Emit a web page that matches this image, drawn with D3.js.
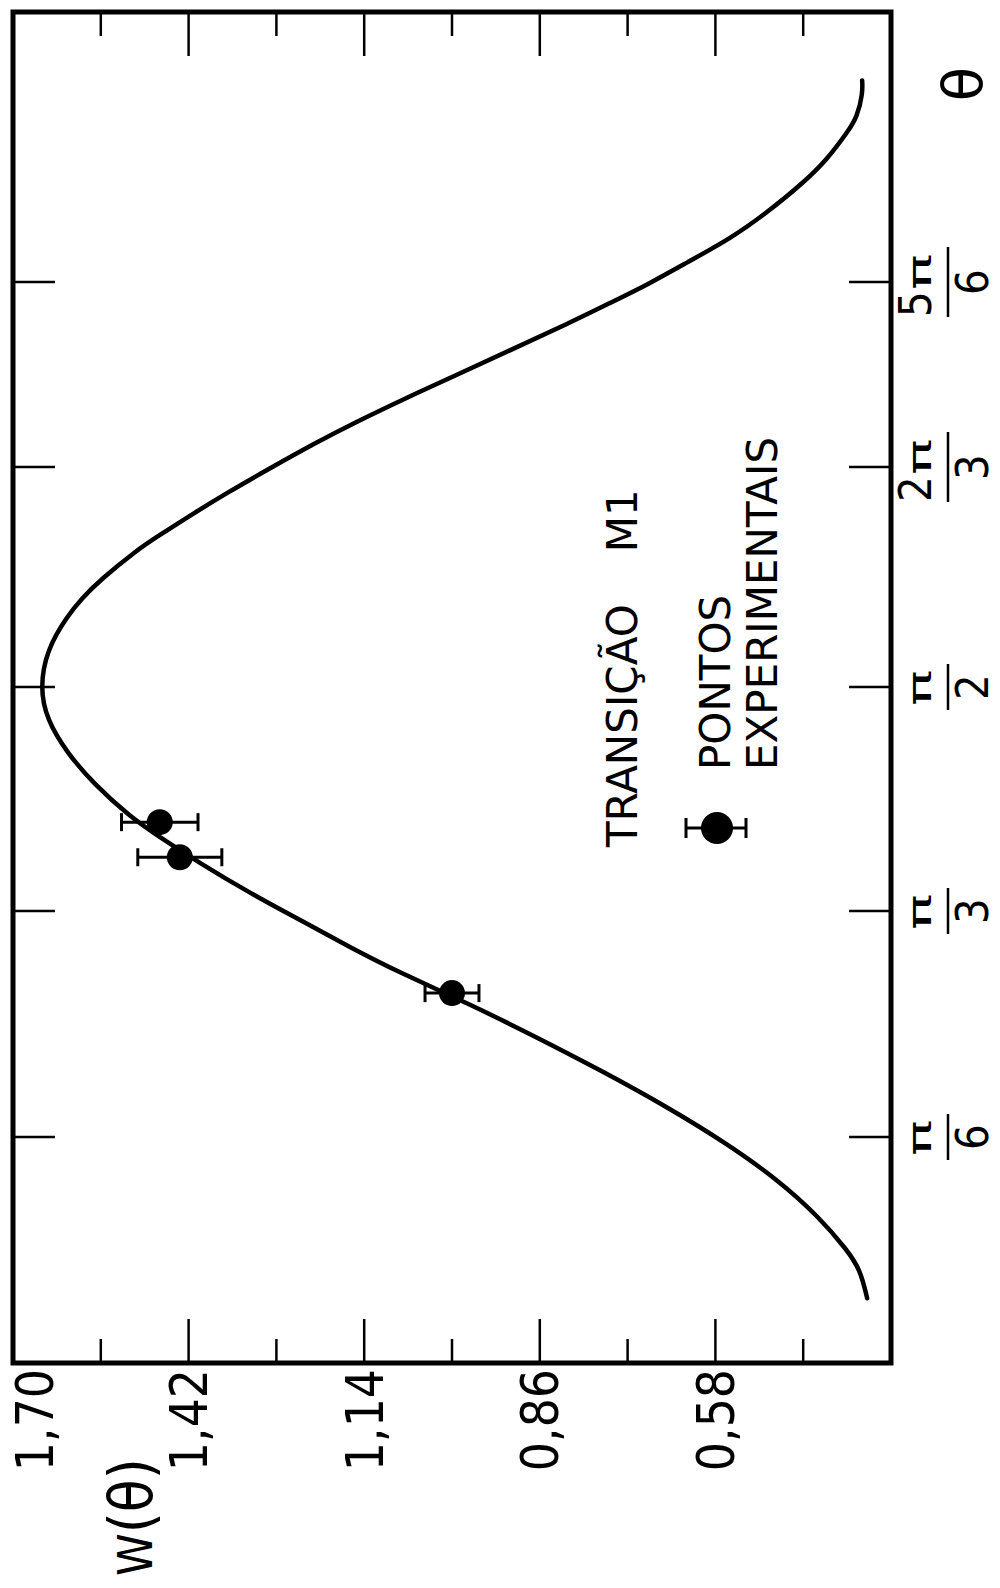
<!DOCTYPE html>
<html>
<head>
<meta charset="utf-8">
<script src="https://cdn.jsdelivr.net/npm/d3@7"></script>
<style>
  body { margin: 0; background: #fff; }
  text { fill: #000; }
</style>
</head>
<body>
<script>
// W(theta) axis (horizontal on the page, the figure is printed turned)
const wTicks = [1.70, 1.42, 1.14, 0.86, 0.58];
const wMinorTicks = [1.56, 1.28, 1.00, 0.72, 0.44];
const wTickLabels = ["1,70", "1,42", "1,14", "0,86", "0,58"];

// theta axis, degrees
const thetaTicks = [30, 60, 90, 120, 150];
const thetaNum = ["π", "π", "π", "2π", "5π"];
const thetaDen = ["6", "3", "2", "3", "6"];

// theoretical curve
const curveTheta = [8.6, 12.4, 15.0, 19.4, 24.3, 29.2, 34.0, 38.9, 43.5, 47.8, 51.8, 55.2, 58.8,
  62.4, 66.4, 69.9, 72.6, 77.1, 81.2, 85.6, 89.9, 95.1, 99.6, 102.1, 104.6, 108.7, 110.5,
  113.9, 116.6, 119.3, 123.9, 127.3, 131.2, 134.6, 139.0, 143.4, 146.6, 149.8, 152.1, 155.0,
  157.7, 161.0, 163.6, 166.6, 168.3, 171.0, 172.4];
const curveW = [0.338, 0.349, 0.370, 0.415, 0.480, 0.563, 0.657, 0.764, 0.871, 0.976, 1.083,
  1.163, 1.242, 1.322, 1.402, 1.466, 1.513, 1.572, 1.614, 1.646, 1.657, 1.646, 1.614, 1.590,
  1.561, 1.502, 1.470, 1.408, 1.356, 1.301, 1.218, 1.153, 1.073, 1.000, 0.906, 0.812, 0.748,
  0.684, 0.627, 0.552, 0.498, 0.440, 0.402, 0.370, 0.354, 0.345, 0.346];

// experimental points
const pointTheta = [49.1, 67.2, 71.9];
const pointW = [1.000, 1.434, 1.466];
const pointErr = [0.043, 0.067, 0.061];

const width = 1000;
const height = 1588;

const svg = d3.select("body").append("svg")
  .attr("width", width)
  .attr("height", height);

const x = d3.scaleLinear().domain([1.70, 0.30]).range([13, 891]);
const y = d3.scaleLinear()
  .domain([0, 30, 60, 90, 120, 150, 180])
  .range([1363, 1137, 911, 687, 467, 282, 12]);

const condensed = "'DejaVu Sans Condensed', 'DejaVu Sans', sans-serif";
const plain = "'DejaVu Sans', sans-serif";

// frame
svg.append("rect")
  .attr("x", x(1.70))
  .attr("y", y(180))
  .attr("width", x(0.30) - x(1.70))
  .attr("height", y(0) - y(180))
  .attr("fill", "none")
  .attr("stroke", "#000")
  .attr("stroke-width", 5);

// W ticks on top and bottom edges
const wAll = wTicks.slice(1).map(v => ({ v, len: 44 }))
  .concat(wMinorTicks.map(v => ({ v, len: 24 })));
svg.append("g").selectAll("line").data(wAll).join("line")
  .attr("x1", d => x(d.v)).attr("x2", d => x(d.v))
  .attr("y1", y(180)).attr("y2", d => y(180) + d.len)
  .attr("stroke", "#000").attr("stroke-width", 2.5);
svg.append("g").selectAll("line").data(wAll).join("line")
  .attr("x1", d => x(d.v)).attr("x2", d => x(d.v))
  .attr("y1", y(0)).attr("y2", d => y(0) - d.len)
  .attr("stroke", "#000").attr("stroke-width", 2.5);

// theta ticks on left and right edges
svg.append("g").selectAll("line").data(thetaTicks).join("line")
  .attr("x1", x(1.70)).attr("x2", x(1.70) + 42)
  .attr("y1", d => y(d)).attr("y2", d => y(d))
  .attr("stroke", "#000").attr("stroke-width", 2.5);
svg.append("g").selectAll("line").data(thetaTicks).join("line")
  .attr("x1", x(0.30)).attr("x2", x(0.30) - 42)
  .attr("y1", d => y(d)).attr("y2", d => y(d))
  .attr("stroke", "#000").attr("stroke-width", 2.5);

// W tick labels
svg.append("g").selectAll("text").data(wTicks).join("text")
  .attr("transform", d => `translate(${Math.max(x(d), x(1.70) + 22)},1369) rotate(-90)`)
  .attr("text-anchor", "end")
  .attr("dy", "0.36em")
  .attr("font-family", condensed)
  .attr("font-size", 51)
  .text((d, i) => wTickLabels[i]);

// W(theta) title
const wTitle = svg.append("text")
  .attr("transform", "translate(152,1576) rotate(-90)")
  .attr("font-family", condensed);
wTitle.append("tspan").attr("font-size", 48).text("W");
wTitle.append("tspan").attr("font-size", 60).text("(θ)");

// theta tick labels as fractions
thetaTicks.forEach((t, i) => {
  const num = thetaNum[i];
  const half = num.length > 1 ? 35 : 23;
  svg.append("line")
    .attr("x1", 948).attr("x2", 948)
    .attr("y1", y(t) - half).attr("y2", y(t) + half)
    .attr("stroke", "#000").attr("stroke-width", 2.5);

  const g = svg.append("g").attr("transform", `translate(931,${y(t)}) rotate(-90)`);
  let piStart = -19;
  if (num.length > 1) {
    g.append("text")
      .attr("x", -35)
      .attr("font-family", condensed)
      .attr("font-size", 45)
      .text(num[0]);
    piStart = -8;
  }
  g.append("text")
    .attr("transform", `translate(${piStart},0) scale(1.5,0.8)`)
    .attr("font-family", plain)
    .attr("font-size", 40)
    .text("π");

  svg.append("text")
    .attr("transform", `translate(988,${y(t)}) rotate(-90)`)
    .attr("text-anchor", "middle")
    .attr("font-family", condensed)
    .attr("font-size", 45)
    .text(thetaDen[i]);
});

// theta title
svg.append("text")
  .attr("transform", "translate(982,84) rotate(-90)")
  .attr("text-anchor", "middle")
  .attr("font-family", plain)
  .attr("font-size", 56)
  .text("θ");

// curve
const curveData = curveTheta.map((t, i) => ({ t, w: curveW[i] }));
const line = d3.line()
  .x(d => x(d.w))
  .y(d => y(d.t))
  .curve(d3.curveBasis);
svg.append("path")
  .datum(curveData)
  .attr("d", line)
  .attr("fill", "none")
  .attr("stroke", "#000")
  .attr("stroke-width", 4.5)
  .attr("stroke-linecap", "round")
  .attr("stroke-linejoin", "round");

// experimental points with error bars
const points = pointTheta.map((t, i) => ({ t, w: pointW[i], e: pointErr[i] }));
const pg = svg.append("g").selectAll("g").data(points).join("g");
pg.append("line")
  .attr("x1", d => x(d.w + d.e)).attr("x2", d => x(d.w - d.e))
  .attr("y1", d => y(d.t)).attr("y2", d => y(d.t))
  .attr("stroke", "#000").attr("stroke-width", 3);
pg.append("line")
  .attr("x1", d => x(d.w + d.e)).attr("x2", d => x(d.w + d.e))
  .attr("y1", d => y(d.t) - 9).attr("y2", d => y(d.t) + 9)
  .attr("stroke", "#000").attr("stroke-width", 3);
pg.append("line")
  .attr("x1", d => x(d.w - d.e)).attr("x2", d => x(d.w - d.e))
  .attr("y1", d => y(d.t) - 9).attr("y2", d => y(d.t) + 9)
  .attr("stroke", "#000").attr("stroke-width", 3);
pg.append("circle")
  .attr("cx", d => x(d.w)).attr("cy", d => y(d.t))
  .attr("r", 13)
  .attr("fill", "#000");

// legend
const lg = svg.append("g");
lg.append("line").attr("x1", 686).attr("x2", 746).attr("y1", 828).attr("y2", 828)
  .attr("stroke", "#000").attr("stroke-width", 3);
lg.append("line").attr("x1", 686).attr("x2", 686).attr("y1", 818).attr("y2", 838)
  .attr("stroke", "#000").attr("stroke-width", 3);
lg.append("line").attr("x1", 746).attr("x2", 746).attr("y1", 818).attr("y2", 838)
  .attr("stroke", "#000").attr("stroke-width", 3);
lg.append("circle").attr("cx", 717).attr("cy", 828).attr("r", 16).attr("fill", "#000");

const title = lg.append("text")
  .attr("transform", "translate(637,847) rotate(-90)")
  .attr("font-family", plain)
  .attr("font-size", 42);
title.append("tspan").text("TRANSIÇÃO");
title.append("tspan").attr("dx", 52).text("M1");

lg.append("text")
  .attr("transform", "translate(730,770) rotate(-90)")
  .attr("font-family", plain)
  .attr("font-size", 42)
  .text("PONTOS");
lg.append("text")
  .attr("transform", "translate(777,770) rotate(-90)")
  .attr("font-family", plain)
  .attr("font-size", 42)
  .text("EXPERIMENTAIS");
</script>
</body>
</html>
